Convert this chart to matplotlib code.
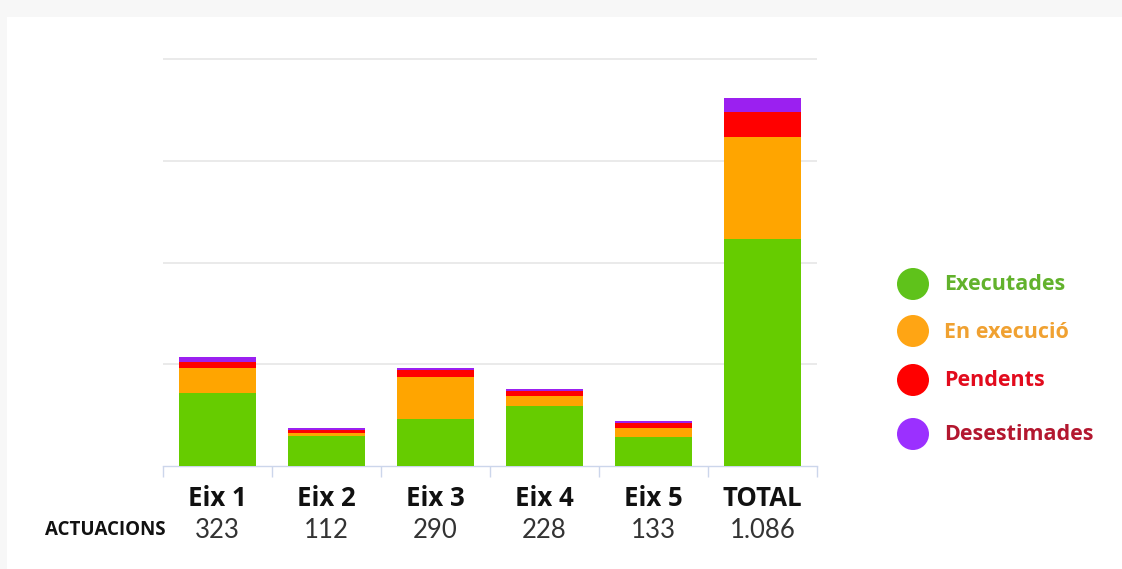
import matplotlib
matplotlib.use("Agg")
import matplotlib.pyplot as plt
import matplotlib.transforms as mtransforms
from matplotlib.patches import Rectangle, Circle
import numpy as np

categories = ["Eix 1", "Eix 2", "Eix 3", "Eix 4", "Eix 5", "TOTAL"]
actuacions = ["323", "112", "290", "228", "133", "1.086"]
executades = [214, 89, 140, 176, 87, 671]
en_execucio = [75, 9, 122, 31, 26, 299]
pendents = [18, 8, 22, 15, 14, 75]
desestimades = [16, 6, 6, 6, 6, 41]

series_names = ["Executades", "En execució", "Pendents", "Desestimades"]
bar_colors = ["#66cc00", "#ffa500", "#ff0000", "#9b20f0"]
dot_colors = ["#5fc21b", "#ffa514", "#ff0000", "#9b30ff"]
text_colors = ["#62b22c", "#f0a131", "#e20b1d", "#b3172f"]

W, H = 1122, 569
fig = plt.figure(figsize=(W / 100, H / 100), dpi=100)
fig.patch.set_facecolor("#f7f7f7")
fig.add_artist(Rectangle((7 / W, 0), 1 - 7 / W, 1 - 17 / H, transform=fig.transFigure,
                         facecolor="white", edgecolor="none", zorder=0))

ymax = 1210
px_per_unit = 368 / 1086
ax_h = ymax * px_per_unit
ax = fig.add_axes([163 / W, 103 / H, 654 / W, ax_h / H])
ax.set_facecolor("none")

x = np.arange(len(categories))
bottom = np.zeros(len(categories))
for vals, col in zip([executades, en_execucio, pendents, desestimades], bar_colors):
    ax.bar(x, vals, width=0.7, bottom=bottom, color=col, edgecolor="none", zorder=3)
    bottom += np.array(vals)

ax.set_xlim(-0.5, len(categories) - 0.5)
ax.set_ylim(0, ymax)
ax.set_yticks([300, 600, 900, 1200])
ax.yaxis.grid(True, color="#e6e6e6", linewidth=1.2, zorder=0)
ax.tick_params(axis="y", left=False, labelleft=False)
ax.set_xticks(np.arange(len(categories) + 1) - 0.5)
ax.tick_params(axis="x", length=8, color="#ccd6eb", width=1, labelbottom=False)
for s in ["top", "right", "left"]:
    ax.spines[s].set_visible(False)
ax.spines["bottom"].set_color("#ccd6eb")
ax.spines["bottom"].set_linewidth(1)

trans = mtransforms.blended_transform_factory(ax.transData, fig.transFigure)
for i, (c, a) in enumerate(zip(categories, actuacions)):
    ax.text(i, 1 - 498 / H, c, transform=trans, ha="center", va="center",
            fontsize=18.5, fontweight="bold", family=["Open Sans", "DejaVu Sans"], color="#111111")
    ax.text(i, 1 - 530 / H, a, transform=trans, ha="center", va="center",
            fontsize=18.5, fontweight="normal", family=["Lato", "DejaVu Sans"], color="#333333")

fig.text(45 / W, 1 - 530 / H, "ACTUACIONS", ha="left", va="center", fontsize=13.5,
         fontweight="bold", family=["Open Sans", "DejaVu Sans"], color="#111111")

legend_y = [284, 331, 380, 434]
for name, dc, tc, yy in zip(series_names, dot_colors, text_colors, legend_y):
    fig.add_artist(Circle((913, H - yy), 16, transform=None, facecolor=dc, edgecolor="none"))
    fig.text(944 / W, 1 - (yy + 1) / H, name, ha="left", va="center", fontsize=15.5,
             fontweight="bold", family=["Open Sans", "DejaVu Sans"], color=tc)

fig.savefig("out.png", dpi=100)
